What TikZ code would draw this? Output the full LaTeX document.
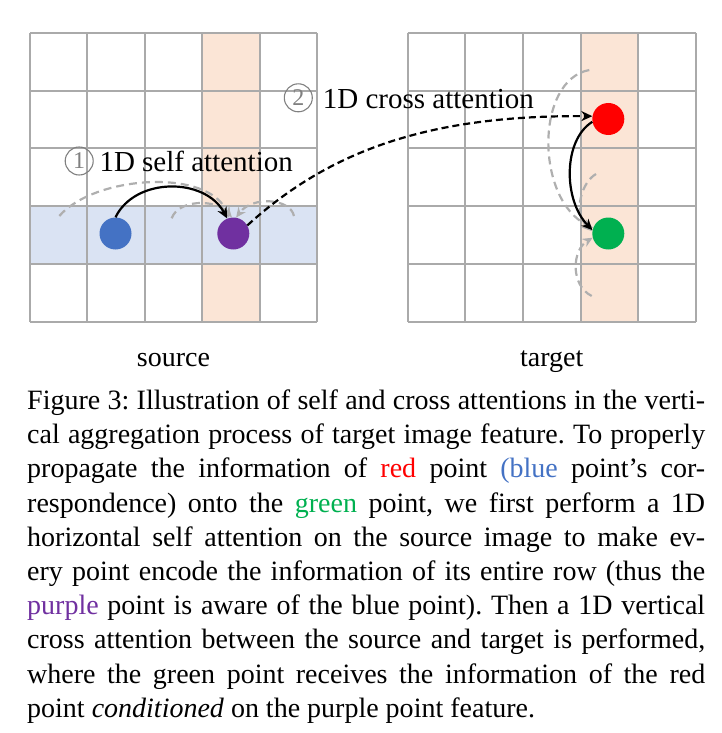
\documentclass[tikz,border=0pt]{standalone}
\usepackage{fontspec}
\setmainfont{Liberation Serif}
\usetikzlibrary{arrows.meta}
\definecolor{gridc}{RGB}{170,170,170}
\definecolor{orangefill}{RGB}{251,229,214}
\definecolor{bluefill}{RGB}{218,227,243}
\definecolor{bluedot}{RGB}{68,114,196}
\definecolor{purpledot}{RGB}{112,48,160}
\definecolor{reddot}{RGB}{255,0,0}
\definecolor{greendot}{RGB}{0,176,80}
\definecolor{dashgray}{RGB}{175,175,175}
\definecolor{numgray}{RGB}{128,128,128}
\newcommand{\bigfont}{\fontsize{28}{34}\selectfont}
\newcommand{\lblfont}{\fontsize{29}{34}\selectfont}
\newcommand{\capline}[1]{\makebox[678pt][s]{#1}}
\frenchspacing
\tikzset{
  gridline/.style={draw=gridc, line width=2pt},
  dotnode/.style={circle, minimum size=32pt, inner sep=0pt},
  blackarrow/.style={black, line width=2.2pt, -{Stealth[length=11pt,width=10pt]}},
  blackdash/.style={black, line width=2.2pt, dash pattern=on 7pt off 4pt, -{Stealth[length=11pt,width=10pt]}},
  grayarrow/.style={dashgray, line width=2.2pt, dash pattern=on 8pt off 5pt, -{Stealth[length=10pt,width=9pt]}},
  numcirc/.style={circle, draw=numgray, line width=1.1pt, minimum size=28pt, inner sep=0pt, text=numgray, font=\fontsize{24}{24}\selectfont},
  lbl/.style={anchor=base west, font=\lblfont, inner sep=0pt},
  capstyle/.style={anchor=base west, font=\bigfont, inner sep=0pt}
}
\begin{document}
\begin{tikzpicture}[x=1pt,y=-1pt]
\useasboundingbox (0,0) rectangle (721,733);
% source grid
\fill[orangefill] (202.2,33) rectangle (259.6,321.5);
\fill[bluefill] (30,205.8) rectangle (317,263.5);
\foreach \i in {0,...,5} {
  \draw[gridline] (30+\i*57.4,33) -- (30+\i*57.4,321.5);
  \draw[gridline] (30,33+\i*57.7) -- (317,33+\i*57.7);
}
% target grid
\fill[orangefill] (580.6,33) rectangle (638.3,321.5);
\foreach \i in {0,...,5} {
  \draw[gridline] (407.5+\i*57.7,33) -- (407.5+\i*57.7,321.5);
  \draw[gridline] (407.5,33+\i*57.7) -- (696,33+\i*57.7);
}
% dots
\node[dotnode, fill=bluedot] (blue) at (115.5,233.5) {};
\node[dotnode, fill=purpledot] (purple) at (233.3,233.5) {};
\node[dotnode, fill=reddot] (red) at (608.3,119) {};
\node[dotnode, fill=greendot] (green) at (608.3,233.5) {};
% source gray dashed arcs
\coordinate (sA) at (59.3,216);
\coordinate (sB) at (171.7,218.3);
\coordinate (sC) at (294,216);
\draw[grayarrow] (sA) .. controls (95,175) and (210,168) .. (purple.105);
\draw[grayarrow] (sB) .. controls (178,200) and (215,198) .. (purple.95);
\draw[grayarrow] (sC) .. controls (290,198) and (252,196) .. (purple.80);
% self attention arrow
\draw[blackarrow] (blue.north) .. controls (135,177) and (205,177) .. (purple.112);
% target gray dashed arcs
\coordinate (tA) at (589.3,70);
\coordinate (tB) at (596,174);
\coordinate (tC) at (591.7,296);
\draw[grayarrow] (tA) .. controls (535,80) and (535,200) .. (green.160);
\draw[grayarrow] (tB) .. controls (582,182) and (572,212) .. (green.172);
\draw[grayarrow] (tC) .. controls (570,285) and (572,250) .. (green.195);
% cross attention arrow
\draw[blackdash] (purple.30) .. controls (330,150) and (430,115) .. (red.170);
% red to green
\draw[blackarrow] (red.190) .. controls (563,140) and (563,200) .. (green.168);
% labels
\node[numcirc] (n1) at (79.2,161) {1};
\node[lbl] (l1) at (99.3,171.7) {1D self attention};
\node[numcirc] (n2) at (298.3,97.8) {2};
\node[lbl] (l2) at (322.7,108.3) {1D cross attention};
\node[anchor=base, font=\bigfont, inner sep=0pt] (src) at (173.5,366) {source};
\node[anchor=base, font=\bigfont, inner sep=0pt] (tgt) at (551.7,366) {target};
% caption
\node[capstyle] (c0) at (27,409.5) {\capline{Figure 3: Illustration of self and cross attentions in the verti-}};
\node[capstyle] (c1) at (27,443.7) {\capline{cal aggregation process of target image feature. To properly}};
\node[capstyle] (c2) at (27,477.9) {\capline{propagate the information of \textcolor{reddot}{red} point \textcolor{bluedot}{(blue} point’s cor-}};
\node[capstyle] (c3) at (27,512.1) {\capline{respondence) onto the \textcolor{greendot}{green} point, we first perform a 1D}};
\node[capstyle] (c4) at (27,546.3) {\capline{horizontal self attention on the source image to make ev-}};
\node[capstyle] (c5) at (27,580.5) {\capline{ery point encode the information of its entire row (thus the}};
\node[capstyle] (c6) at (27,614.7) {\capline{\textcolor{purpledot}{purple} point is aware of the blue point). Then a 1D vertical}};
\node[capstyle] (c7) at (27,648.9) {\capline{cross attention between the source and target is performed,}};
\node[capstyle] (c8) at (27,683.1) {\capline{where the green point receives the information of the red}};
\node[capstyle] (c9) at (27,717.3) {point \textit{conditioned} on the purple point feature.};
\end{tikzpicture}
\end{document}
